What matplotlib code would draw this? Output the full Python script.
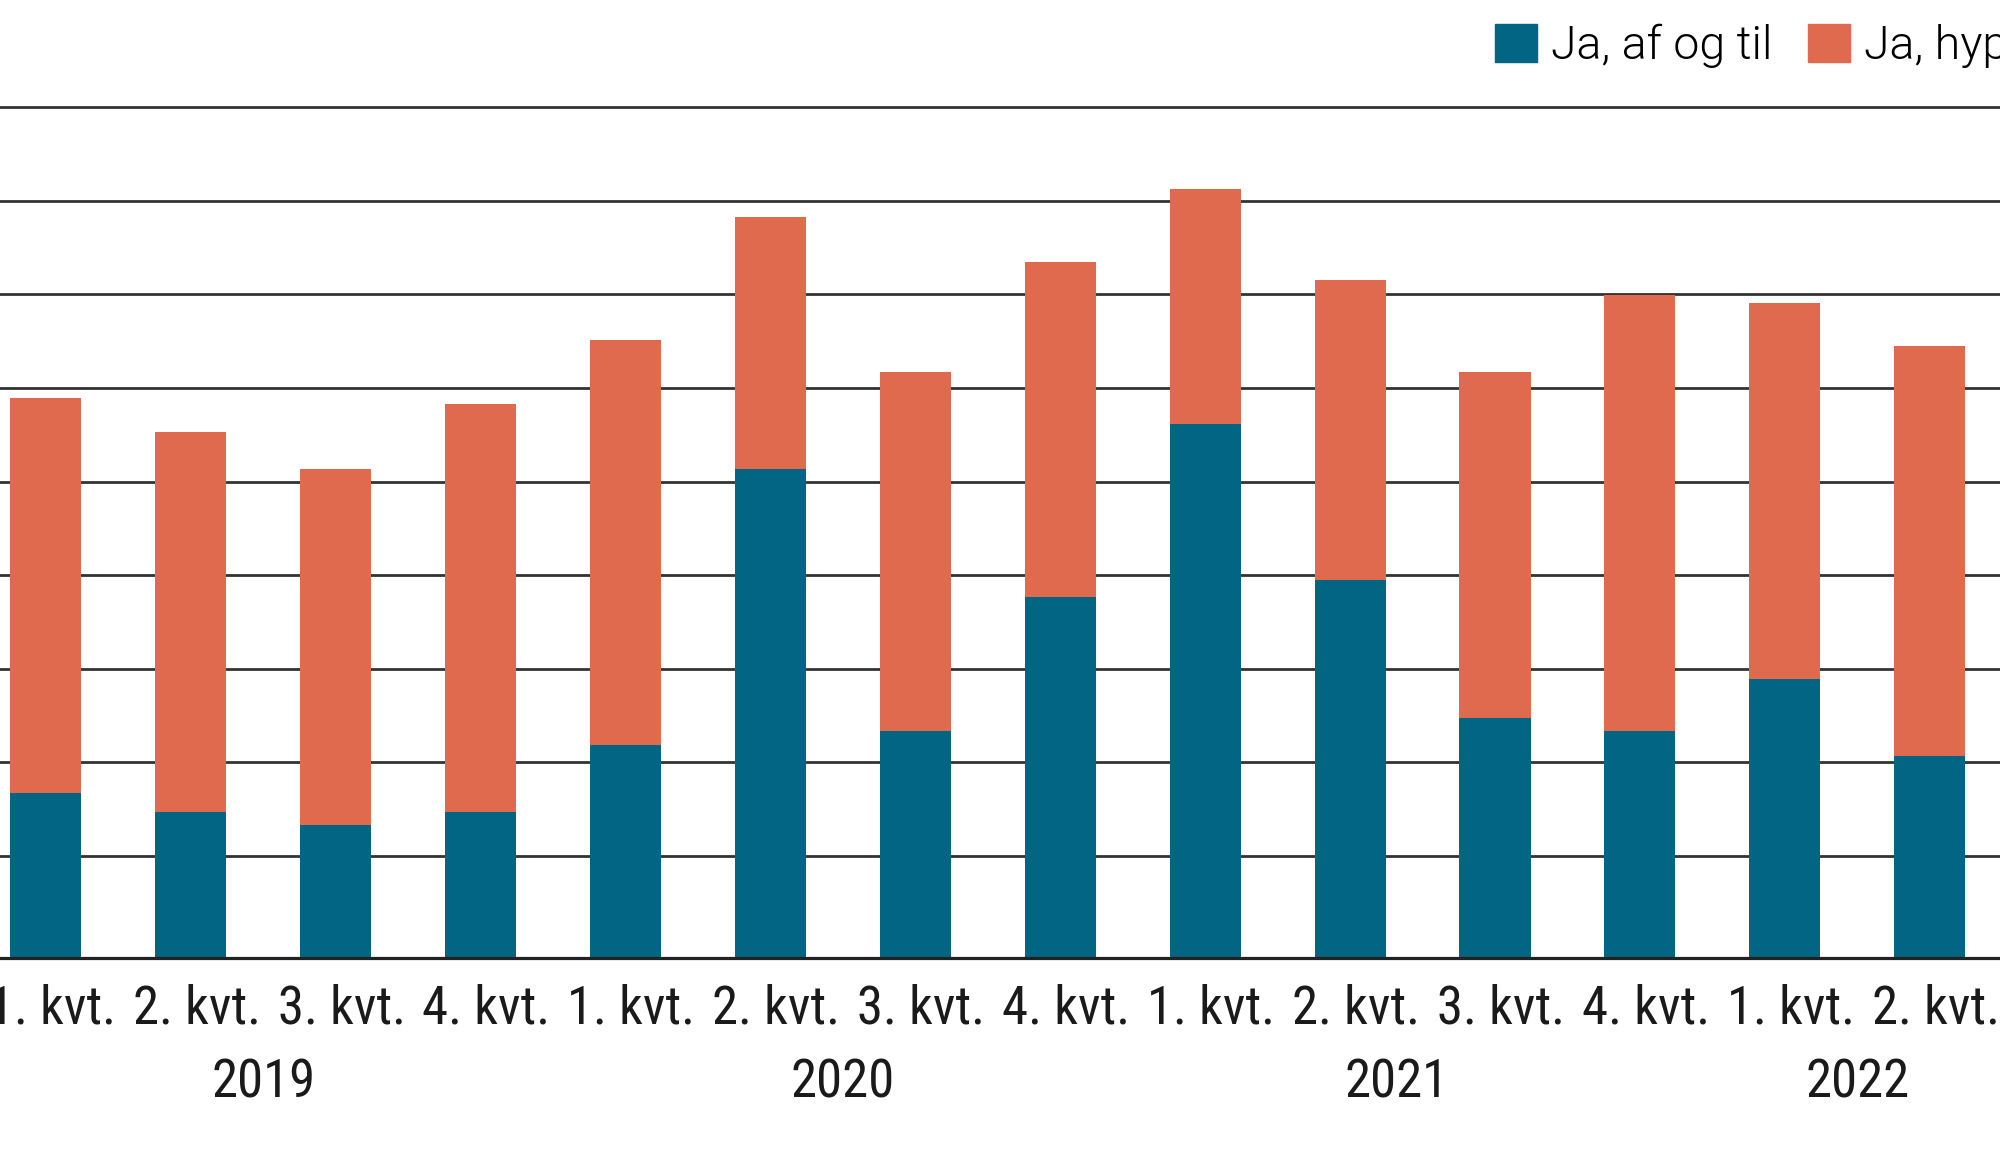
import matplotlib
matplotlib.use("Agg")
import matplotlib.pyplot as plt
import matplotlib.transforms as mtransforms
from matplotlib.patches import Patch
import numpy as np

# data (share of respondents, %)
quarters = ["1. kvt.", "2. kvt.", "3. kvt.", "4. kvt.",
            "1. kvt.", "2. kvt.", "3. kvt.", "4. kvt.",
            "1. kvt.", "2. kvt.", "3. kvt.", "4. kvt.",
            "1. kvt.", "2. kvt."]
years = ["2019", "2020", "2021", "2022"]
year_len = [4, 4, 4, 2]
af_og_til = [8.8, 7.8, 7.1, 7.8, 11.4, 26.1, 12.1, 19.3, 28.5, 20.2, 12.8, 12.1, 14.9, 10.8]
total = [29.9, 28.1, 26.1, 29.6, 33.0, 39.6, 31.3, 37.2, 41.1, 36.2, 31.3, 35.4, 35.0, 32.7]
hyppigt = [t - a for t, a in zip(total, af_og_til)]

TEAL = "#036584"
ORANGE = "#E06A4E"
GRID = "#333333"

fig = plt.figure(figsize=(20, 11.65), dpi=100)
ax = fig.add_axes([0, 1 - 958 / 1165, 1, 898.6 / 1165])

x = np.arange(len(quarters))
ax.bar(x, af_og_til, width=0.49, color=TEAL, zorder=2)
ax.bar(x, hyppigt, width=0.49, bottom=af_og_til, color=ORANGE, zorder=2)

ax.set_xlim(-0.317, 13.485)
ax.set_ylim(0, 48)
ax.set_yticks(np.arange(5, 50, 5) + 0.45)
ax.yaxis.grid(True, color=GRID, linewidth=2.0)
ax.set_axisbelow(True)
ax.tick_params(left=False, bottom=False, labelleft=False, labelbottom=False)
for side in ["left", "right", "top"]:
    ax.spines[side].set_visible(False)
ax.spines["bottom"].set_color("#222222")
ax.spines["bottom"].set_linewidth(2.3)

trans = mtransforms.blended_transform_factory(ax.transData, fig.transFigure)
for xi, q in zip(x, quarters):
    ax.text(xi + 0.04, 1 - 1023 / 1165, q, transform=trans, ha="center", va="baseline",
            fontsize=38, family="Roboto Condensed", color="#1a1a1a")

year_shift = {"2021": -0.18}
start = 0
for yr, n in zip(years, year_len):
    cx = np.mean(x[start:start + n]) + year_shift.get(yr, 0)
    ax.text(cx, 1 - 1097 / 1165, yr, transform=trans, ha="center", va="baseline",
            fontsize=38, family="Roboto Condensed", color="#1a1a1a")
    start += n

handles = [Patch(color=TEAL), Patch(color=ORANGE)]
fig.legend(handles, ["Ja, af og til", "Ja, hyppigt"], ncol=2, frameon=False,
           loc="center left", bbox_to_anchor=(1495 / 2000, 1 - 46 / 1165),
           borderpad=0, borderaxespad=0, handlelength=0.9, handleheight=0.88,
           handletextpad=0.3, columnspacing=0.77,
           prop={"family": "Roboto", "weight": 300, "size": 33.5})

fig.savefig("out.png", dpi=100)
